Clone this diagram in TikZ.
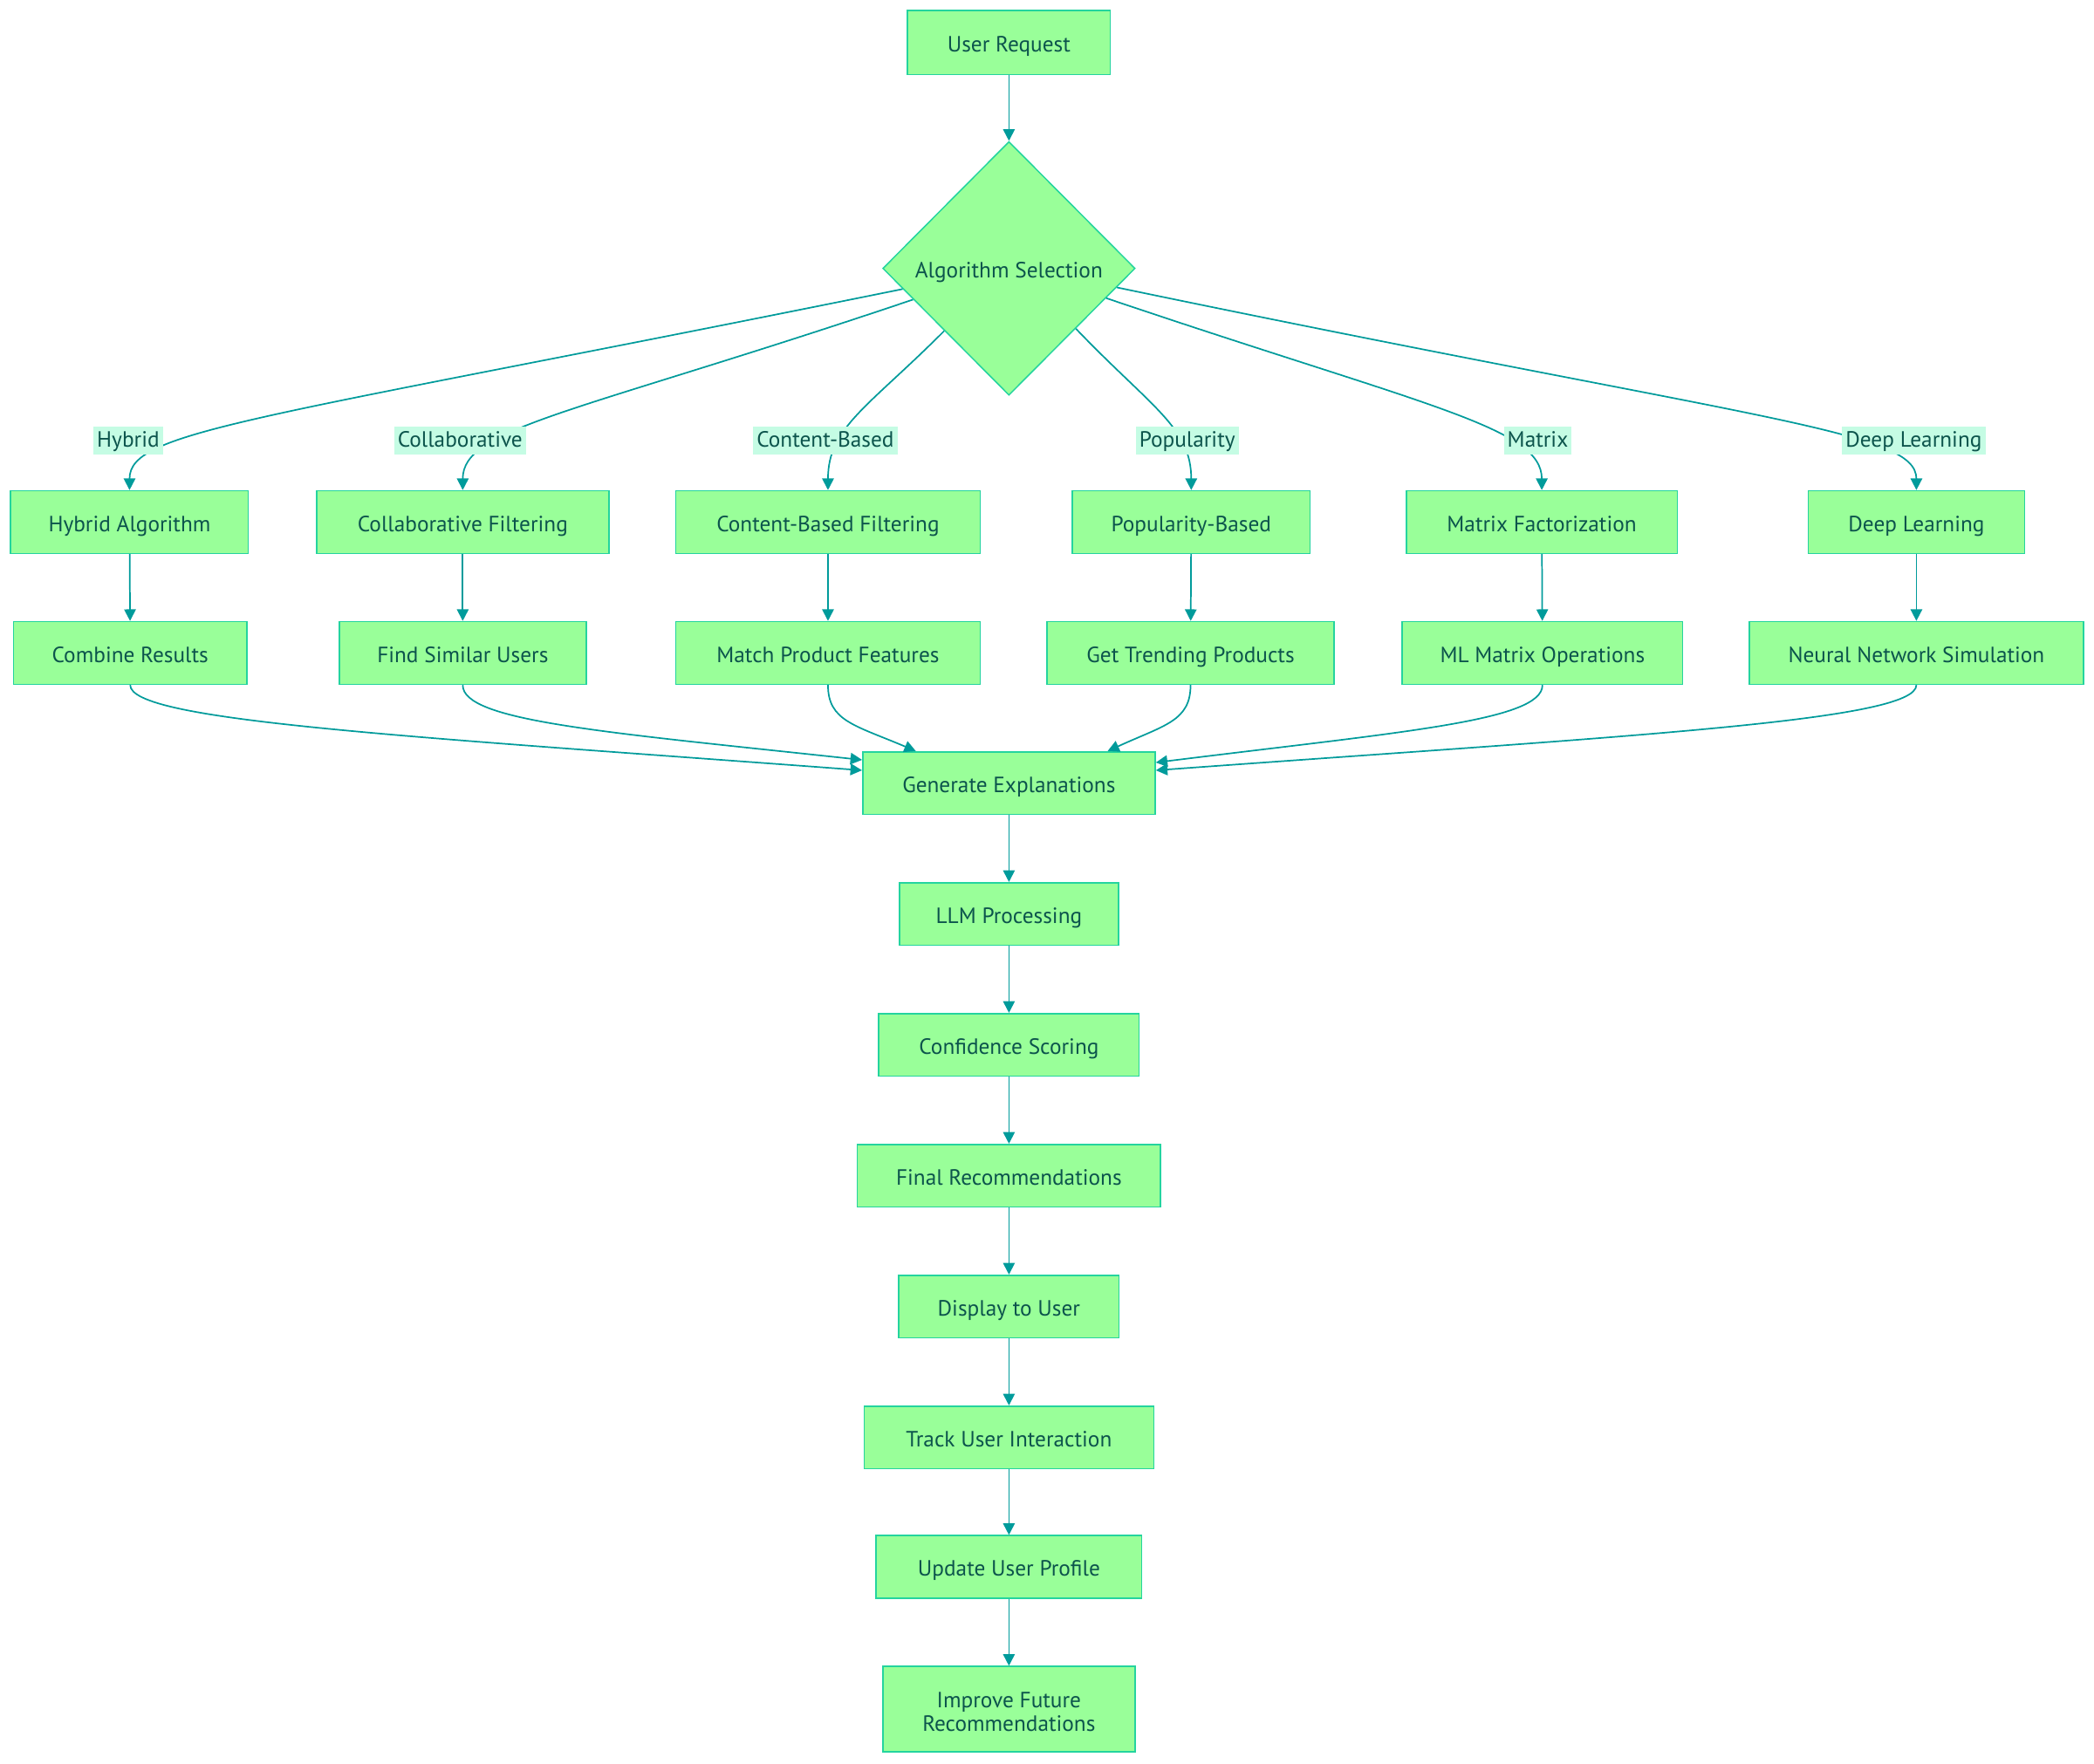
\documentclass[tikz,border=0pt]{standalone}
\usepackage{fontspec}
\setmainfont{PT Sans}
\usetikzlibrary{shapes.geometric,arrows.meta}
\definecolor{nodefill}{RGB}{153,255,153}
\definecolor{nodeborder}{RGB}{36,212,158}
\definecolor{nodetext}{RGB}{12,84,76}
\definecolor{edgecol}{RGB}{0,155,155}
\definecolor{labelbg}{RGB}{197,252,228}
\tikzset{
  box/.style={draw=nodeborder, fill=nodefill, text=nodetext, line width=0.75pt,
    minimum height=35.25pt, inner sep=0pt, text height=10.5pt, text depth=0pt,
    font=\fontsize{12.4}{14}\selectfont},
  bw/.style={minimum width=#1*0.75pt},
  flow/.style={draw=edgecol, line width=0.85pt, -{Triangle[length=6.5pt,width=6.5pt]}},
  elabel/.style={fill=labelbg, text=nodetext, inner xsep=2pt, inner ysep=0pt,
    text height=11.5pt, text depth=4pt, font=\fontsize{12.4}{14}\selectfont},
}
\begin{document}
\begin{tikzpicture}[x=0.75pt,y=-0.75pt]
\useasboundingbox (0,0) rectangle (1568,1321);
% nodes
\node[box,bw=152,minimum height=36pt] (req) at (755.5,32) {User Request};
\node[box,diamond,minimum width=141.75pt,minimum height=142.5pt] (sel) at (755.5,201) {Algorithm Selection};
% row 1
\node[box,bw=178] (hyb) at (97,391) {Hybrid Algorithm};
\node[box,bw=219] (col) at (346.5,391) {Collaborative Filtering};
\node[box,bw=228] (cont) at (620,391) {Content-Based Filtering};
\node[box,bw=178] (pop) at (892,391) {Popularity-Based};
\node[box,bw=203] (mat) at (1154.5,391) {Matrix Factorization};
\node[box,bw=162] (deep) at (1435,391) {Deep Learning};
% row 2
\node[box,bw=175] (comb) at (97.5,489) {Combine Results};
\node[box,bw=185] (find) at (346.5,489) {Find Similar Users};
\node[box,bw=228] (match) at (620,489) {Match Product Features};
\node[box,bw=215] (trend) at (891.5,489) {Get Trending Products};
\node[box,bw=210] (ml) at (1155,489) {ML Matrix Operations};
\node[box,bw=250] (nn) at (1435,489) {Neural Network Simulation};
% column
\node[box,bw=219] (gen) at (755.5,586.5) {Generate Explanations};
\node[box,bw=164] (llm) at (755.5,684.5) {LLM Processing};
\node[box,bw=195] (conf) at (755.5,782.5) {Confidence Scoring};
\node[box,bw=227] (final) at (755.5,880.5) {Final Recommendations};
\node[box,bw=165] (disp) at (755.5,978.5) {Display to User};
\node[box,bw=217] (track) at (755.5,1076.5) {Track User Interaction};
\node[box,bw=199] (upd) at (755.5,1173.5) {Update User Profile};
\node[box,bw=189,minimum height=48pt,align=center,text height=25pt,text depth=0pt,
  font=\fontsize{12.4}{13.5}\selectfont] (imp) at (755.5,1280) {Improve Future\\Recommendations};
% edges top
\draw[flow] (req) -- (sel);
\draw[flow] (sel.-169.1) .. controls (190,315) and (97,322) .. (hyb.north);
\draw[flow] (sel.-162.8) .. controls (430,310) and (346.5,320) .. (col.north);
\draw[flow] (sel.-136.2) .. controls (650,305) and (620,320) .. (cont.north);
\draw[flow] (sel.-42.6) .. controls (862,305) and (892,320) .. (pop.north);
\draw[flow] (sel.-17.7) .. controls (1070,305) and (1154.5,320) .. (mat.north);
\draw[flow] (sel.-10.6) .. controls (1320,316) and (1435,322) .. (deep.north);
% edge labels
\node[elabel] (lhyb) at (96,330) {Hybrid};
\node[elabel] (lcol) at (344.5,330) {Collaborative};
\node[elabel] (lcont) at (618,330) {Content-Based};
\node[elabel] (lpop) at (889,330) {Popularity};
\node[elabel] (lmat) at (1151.5,330) {Matrix};
\node[elabel] (ldeep) at (1433,330) {Deep Learning};
% row1 -> row2
\draw[flow] (hyb) -- (comb);
\draw[flow] (col) -- (find);
\draw[flow] (cont) -- (match);
\draw[flow] (pop) -- (trend);
\draw[flow] (mat) -- (ml);
\draw[flow] (deep) -- (nn);
% row2 -> gen
\draw[flow] (comb.south) .. controls (97.5,540) and (300,551) .. (gen.175);
\draw[flow] (find.south) .. controls (346.5,540) and (450,548) .. (gen.171.9);
\draw[flow] (match.south) .. controls (620,540) and (640,543) .. (gen.161.1);
\draw[flow] (trend.south) .. controls (891.5,540) and (872,543) .. (gen.18.9);
\draw[flow] (ml.south) .. controls (1155,540) and (1050,548) .. (gen.8.1);
\draw[flow] (nn.south) .. controls (1435,540) and (1220,551) .. (gen.5.0);
% column
\draw[flow] (gen) -- (llm);
\draw[flow] (llm) -- (conf);
\draw[flow] (conf) -- (final);
\draw[flow] (final) -- (disp);
\draw[flow] (disp) -- (track);
\draw[flow] (track) -- (upd);
\draw[flow] (upd) -- (imp);
\end{tikzpicture}
\end{document}
